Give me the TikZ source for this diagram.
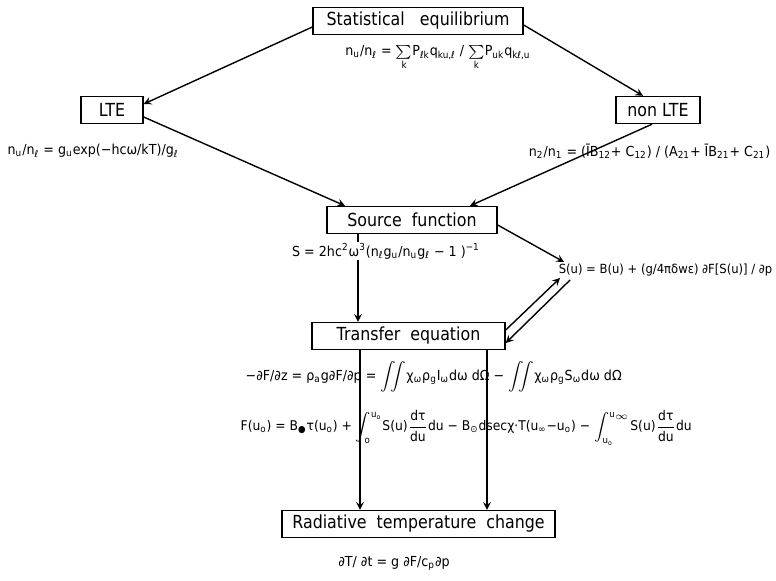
\documentclass[tikz,border=0pt]{standalone}
\usepackage{amsmath}
\usepackage{fontspec}
\setmainfont[FakeStretch=0.92]{DejaVu Sans}
\newfontfamily\boxfont[FakeStretch=0.88]{DejaVu Sans}
\usetikzlibrary{arrows}

\newcommand\lo[1]{\textsubscript{#1}}
\newcommand\hi[1]{\textsuperscript{#1}}

\begin{document}
\begin{tikzpicture}[->,>=stealth,x=0.5pt,y=-0.5pt,line width=0.7pt,
    main node/.style={draw,rectangle,inner sep=0pt,minimum height=13.5pt,font=\boxfont\fontsize{9}{10}\selectfont},
    eq node/.style={inner sep=1pt,font=\fontsize{6.9}{8}\selectfont}]

  \useasboundingbox (0,0) rectangle (776,580);

  % boxes
  \node[main node, minimum width=105pt] (1) at (418,21) {Statistical\ \ \ equilibrium};
  \node[main node, minimum width=31pt] (2) at (112,110) {LTE};
  \node[main node, minimum width=42pt] (3) at (658,110) {non LTE};
  \node[main node, minimum width=85pt] (4) at (412,220) {Source\ \ function};
  \node[main node, minimum width=96.5pt] (5) at (408.5,336) {Transfer\ \ equation};
  \node[main node, minimum width=136.5pt] (6) at (418.5,524) {Radiative\ \ temperature\ \ change};

  % equations
  \node[eq node] (7) at (438,58) {n\lo{u}/n\lo{ℓ} = $\sum\limits_{\text{k}}$P\lo{ℓk}q\lo{ku,ℓ} / $\sum\limits_{\text{k}}$P\lo{uk}q\lo{kℓ,u}};
  \node[eq node, anchor=east, font=\fontsize{6.3}{7}\selectfont] (8) at (775,270) {S(u) = B(u) + (g/4πδwε) ∂F[S(u)] / ∂p};
  \node[eq node, anchor=west] (9) at (5,151) {n\lo{u}/n\lo{ℓ} = g\lo{u}exp(−hcω/kT)/g\lo{ℓ}};
  \node[eq node, anchor=east] (10) at (773,151) {n\lo{2}/n\lo{1} = (ĪB\lo{12}+ C\lo{12}) / (A\lo{21}+ ĪB\lo{21}+ C\lo{21})};
  \node[eq node, anchor=west] (12) at (243,377) {−∂F/∂z = ρ\lo{a}g∂F/∂p = $\displaystyle\iint$χ\lo{ω}ρ\lo{g}I\lo{ω}dω dΩ − $\displaystyle\iint$χ\lo{ω}ρ\lo{g}S\lo{ω}dω dΩ};
  \node[eq node, anchor=west, font=\fontsize{6.7}{8}\selectfont] (13) at (238,428) {F(u\lo{o}) = B\lo{●}τ(u\lo{o}) + $\displaystyle\int_{\text{o}}^{\text{u}_\text{o}}$S(u)$\dfrac{\text{dτ}}{\text{du}}$du − B\lo{⊙}dsecχ·T(u\lo{∞}−u\lo{o}) − $\displaystyle\int_{\text{u}_\text{o}}^{\text{u}_\infty}$S(u)$\dfrac{\text{dτ}}{\text{du}}$du};
  \node[eq node] (14) at (394,563) {∂T/ ∂t = g ∂F/c\lo{p}∂p};

  % connectors
  \path
    ([yshift=-3pt]1.west) edge ([yshift=3pt]2.east)
    ([yshift=-2pt]1.east) edge ([xshift=-7.5pt]3.north)
    ([yshift=-3.5pt]2.east) edge ([xshift=-33.5pt]4.north)
    ([xshift=-3pt]3.south) edge ([xshift=29pt]4.north)
    ([yshift=-2.5pt]4.east) edge ([xshift=4pt,yshift=4pt]8.west)
    ([yshift=3pt]5.east) edge ([xshift=2pt,yshift=-4pt]8.west)
    ([xshift=7pt,yshift=-5pt]8.west) edge ([yshift=-3.5pt]5.east)
    ([xshift=-27pt]4.south) edge ([xshift=-25.25pt]5.north)
    ([xshift=-24.25pt]5.south) edge ([xshift=-29.25pt]6.north)
    ([xshift=39.25pt]5.south) edge ([xshift=34.25pt]6.north)
  ;

  % breaks the line below the source box
  \node[eq node, fill=white, inner sep=0.5pt] (11) at (386,251) {S = 2hc\hi{2}ω\hi{3}(n\lo{ℓ}g\lo{u}/n\lo{u}g\lo{ℓ} − 1 )\hi{−1}};
\end{tikzpicture}
\end{document}
